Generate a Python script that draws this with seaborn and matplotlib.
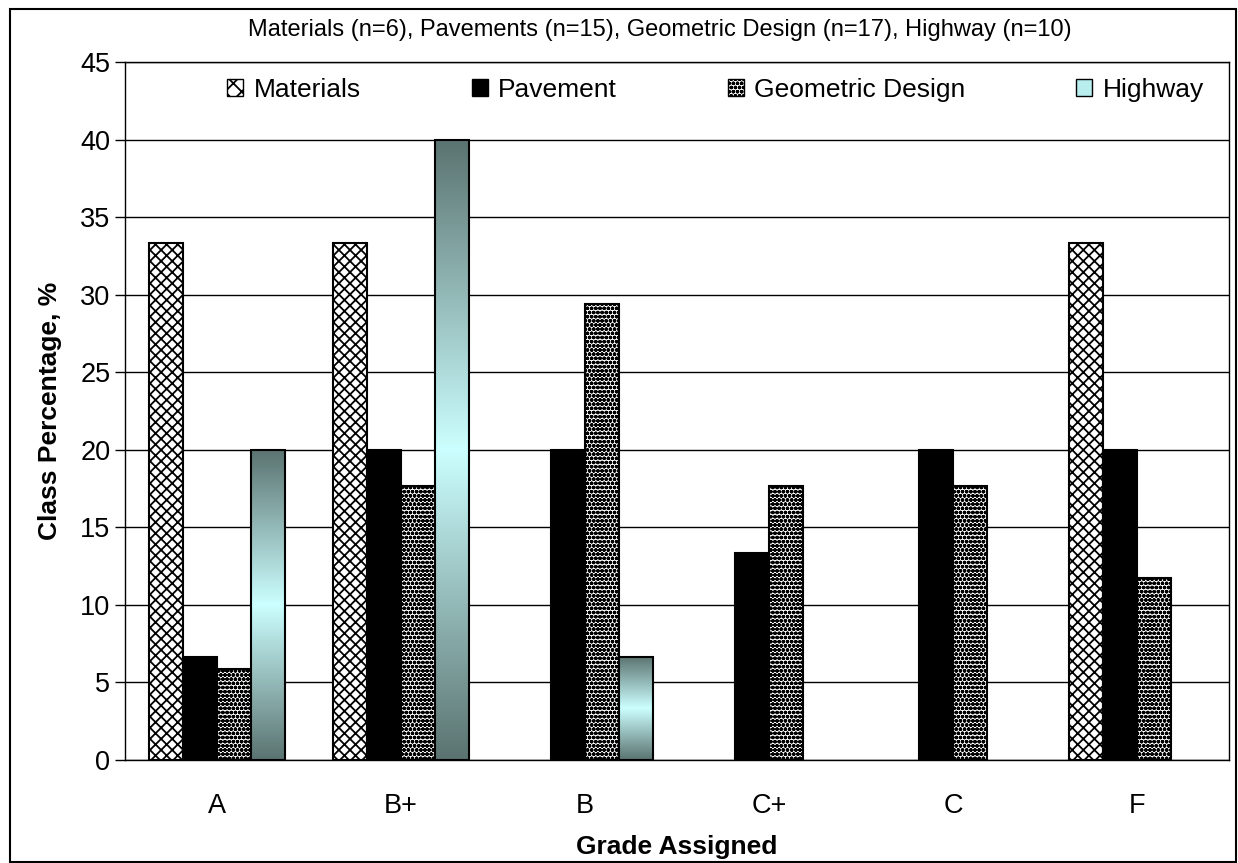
import numpy as np
import pandas as pd
import matplotlib
matplotlib.use("Agg")
import matplotlib.pyplot as plt
from matplotlib.patches import Rectangle, Patch
import seaborn as sns

grades = ["A", "B+", "B", "C+", "C", "F"]
courses = ["Materials", "Pavement", "Geometric Design", "Highway"]
materials = [33.3, 33.3, 0, 0, 0, 33.3]
pavement = [6.67, 20.0, 20.0, 13.33, 20.0, 20.0]
geometric = [5.88, 17.65, 29.41, 17.65, 17.65, 11.76]
highway = [20.0, 40.0, 6.67, 0, 0, 0]

df = pd.DataFrame({
    "grade": grades * 4,
    "course": [c for c in courses for _ in grades],
    "pct": materials + pavement + geometric + highway,
})

sns.set_style("white")
plt.rcParams["font.family"] = ["Liberation Sans", "DejaVu Sans"]
plt.rcParams["hatch.linewidth"] = 1.3
for k in ["text.color", "axes.labelcolor", "xtick.color", "ytick.color"]:
    plt.rcParams[k] = "black"

fig = plt.figure(figsize=(12.38, 8.63), dpi=100)
W, H = 1238, 863
ax = fig.add_axes([125 / W, 1 - 760 / H, (1229 - 125) / W, (760 - 62) / H])

sns.barplot(data=df, x="grade", y="pct", hue="course", order=grades,
            hue_order=courses, width=0.74, ax=ax, legend=False,
            palette=["white", "black", "white", "white"],
            edgecolor="black", linewidth=1.5, saturation=1)

# gradient for highway bars (dark - light - dark)
grad = np.abs(np.linspace(-1, 1, 256))
c_dark = np.array([90, 115, 112]) / 255
c_light = np.array([204, 255, 255]) / 255
img = (c_light[None, :] * (1 - grad[:, None]) + c_dark[None, :] * grad[:, None])[:, None, :]

styles = {"Materials": "xxx", "Pavement": None, "Geometric Design": "oooo", "Highway": "grad"}
for cont, name in zip(ax.containers, courses):
    for bar in cont:
        h = bar.get_height()
        if h <= 0:
            bar.set_visible(False)
            continue
        st = styles[name]
        if st == "grad":
            x0 = bar.get_x()
            im = ax.imshow(img, extent=[x0, x0 + bar.get_width(), 0, h],
                           aspect="auto", zorder=bar.get_zorder(), interpolation="bilinear")
            im.set_clip_path(bar)
            bar.set_facecolor("none")
            bar.set_zorder(bar.get_zorder() + 0.1)
        elif st is not None:
            bar.set_hatch(st)

ax.set_xlim(-0.5, 5.5)
ax.set_ylim(0, 45)
ax.set_yticks(range(0, 46, 5))
ax.yaxis.grid(True, color="black", linewidth=1)
ax.set_axisbelow(True)
for s in ax.spines.values():
    s.set_color("black")
    s.set_linewidth(1)

ax.set_xticks(range(6))
ax.set_xticklabels(grades)
ax.set_xticks(np.arange(-0.5, 6, 1), minor=True)
ax.tick_params(axis="x", which="major", length=0, labelsize=19.5, pad=24)
ax.tick_params(axis="x", which="minor", length=10, width=1, color="black", direction="out")
ax.tick_params(axis="y", length=7, width=1, color="black", direction="out", labelsize=19.5, left=True)

ax.set_xlabel("Grade Assigned", fontsize=19, fontweight="bold", labelpad=11)
ax.set_ylabel("Class Percentage, %", fontsize=19, fontweight="bold", labelpad=13)

handles = [
    Patch(facecolor="white", edgecolor="black", hatch="xx"),
    Patch(facecolor="black", edgecolor="black"),
    Patch(facecolor="white", edgecolor="black", hatch="oooo"),
    Patch(facecolor="#b8eeee", edgecolor="black"),
]
ax.legend(handles, courses, loc="upper center", bbox_to_anchor=(0.535, 1.0), ncol=4,
          frameon=False, fontsize=19, handlelength=0.6, handleheight=0.6,
          handletextpad=0.4, columnspacing=4.2, borderaxespad=0.2)

fig.text(660 / W, 1 - 30 / H,
         "Materials (n=6), Pavements (n=15), Geometric Design (n=17), Highway (n=10)",
         ha="center", va="center", fontsize=17)

fig.patches.append(Rectangle((10 / W, 1 / H), (1236 - 10) / W, (853) / H,
                             transform=fig.transFigure, fill=False,
                             edgecolor="black", linewidth=1.5))

fig.savefig("out.png", dpi=100)
